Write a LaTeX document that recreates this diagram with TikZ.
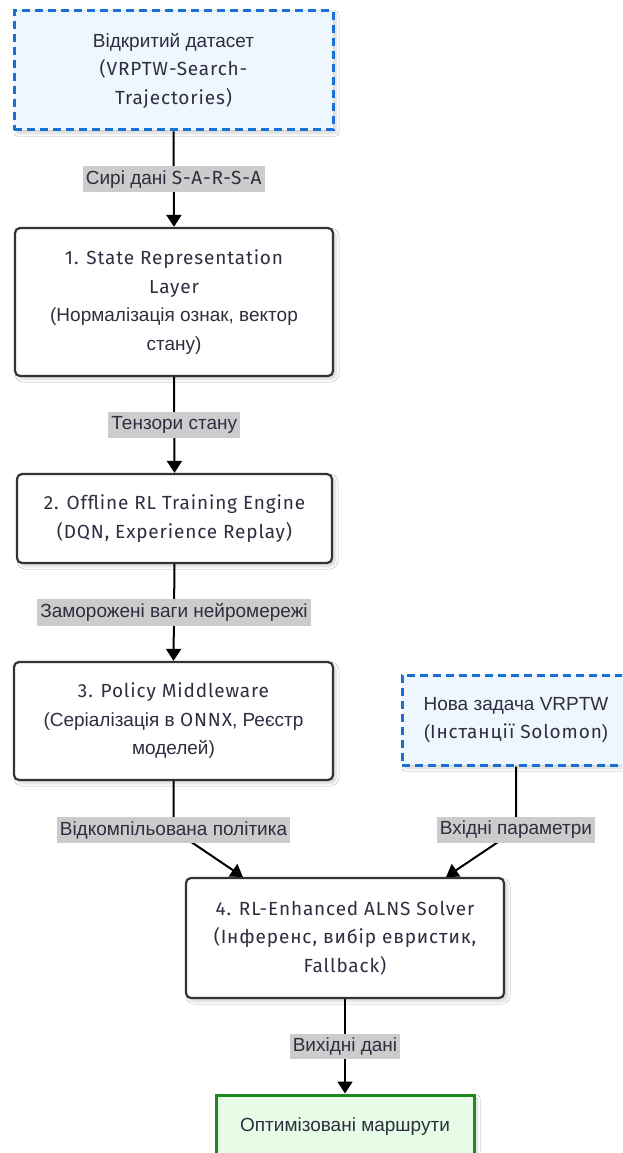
\documentclass[tikz,border=0pt]{standalone}
\usepackage{fontspec}
\setmainfont{Liberation Sans}
\newfontfamily\lat[LetterSpace=4.5]{Fira Sans}
\usetikzlibrary{arrows.meta,shadows.blur,calc}

\definecolor{ink}{HTML}{2E2E40}
\definecolor{boxedge}{HTML}{333333}
\definecolor{dashblue}{HTML}{1A6FD6}
\definecolor{paleblue}{HTML}{EEF6FE}
\definecolor{lblgray}{HTML}{CCCCCC}
\definecolor{okgreen}{HTML}{1E8A1E}
\definecolor{palegreen}{HTML}{E6FCE6}

\tikzset{
  every node/.style={font=\fontsize{19}{28.5}\selectfont, text=ink},
  soft/.style={blur shadow={shadow xshift=3pt, shadow yshift=-3pt,
      shadow blur steps=6, shadow opacity=18, shadow blur radius=3pt}},
  stage/.style={draw=boxedge, line width=2.2pt, rounded corners=5pt,
      fill=white, align=center, inner sep=0pt, soft},
  source/.style={draw=dashblue, line width=3pt, dash pattern=on 8pt off 5pt,
      fill=paleblue, align=center, inner sep=0pt, soft},
  result/.style={draw=okgreen, line width=3pt, fill=palegreen,
      align=center, inner sep=0pt, soft},
  flowlabel/.style={fill=lblgray, inner xsep=3pt, inner ysep=4pt,
      font=\fontsize{19}{21}\selectfont},
  flow/.style={draw=black, line width=2pt, -{Triangle[width=15pt,length=12pt]}},
}

\begin{document}
\begin{tikzpicture}[x=1pt, y=-1pt]
  \clip (0,0) rectangle (622,1153);
  \fill[white] (0,0) rectangle (622,1153);

  % data sources
  \node[source, minimum width=319pt, minimum height=119pt] (ds) at (173.5,70.5)
    {Відкритий датасет\\ {\lat (VRPTW-Search-}\\ {\lat Trajectories)}};
  \node[source, minimum width=228pt, minimum height=90pt] (nz) at (516,720)
    {Нова задача VRPTW\\ ({\lat Інстанції Solomon})};

  % pipeline stages
  \node[stage, minimum width=318pt, minimum height=148pt] (b1) at (174,302)
    {{\lat 1. State Representation}\\ {\lat Layer}\\ (Нормалізація ознак, вектор\\ стану)};
  \node[stage, minimum width=315pt, minimum height=89pt] (b2) at (174.5,518.5)
    {{\lat 2. Offline RL Training Engine}\\ {\lat (DQN, Experience Replay)}};
  \node[stage, minimum width=319pt, minimum height=118pt] (b3) at (173.5,721)
    {{\lat 3. Policy Middleware}\\ (Серіалізація в {\lat ONNX}, Реєстр\\ моделей)};
  \node[stage, minimum width=318pt, minimum height=120pt] (b4) at (345,938)
    {{\lat 4. RL-Enhanced ALNS Solver}\\ {\lat (Інференс, вибір евристик,}\\ {\lat Fallback)}};

  % final output
  \node[result, minimum width=258pt, minimum height=64pt] (out) at (345,1127)
    {Оптимізовані маршрути};

  % straight flows with labels
  \draw[flow] (ds.south) -- node[flowlabel] {Сирі дані {\lat S-A-R-S-A}} (b1.north);
  \draw[flow] (b1.south) -- node[flowlabel] {Тензори стану} (b2.north);
  \draw[flow] (b2.south) -- node[flowlabel] {Заморожені ваги нейромережі} (b3.north);
  \draw[flow] (b4.south) -- node[flowlabel] {Вихідні дані} (out.north);

  % converging flows into the solver
  \coordinate (j3) at (b3.south |- 0,830);
  \coordinate (jn) at (nz.south |- 0,830);
  \coordinate (e3) at ($(b4.north west)+(58,0)$);
  \coordinate (en) at ($(b4.north east)+(-59,0)$);
  \draw[flow] (b3.south) -- (j3) -- (e3);
  \draw[flow] (nz.south) -- (jn) -- (en);
  \node[flowlabel] (l3) at (j3) {Відкомпільована політика};
  \node[flowlabel] (ln) at (jn) {Вхідні параметри};
\end{tikzpicture}
\end{document}
